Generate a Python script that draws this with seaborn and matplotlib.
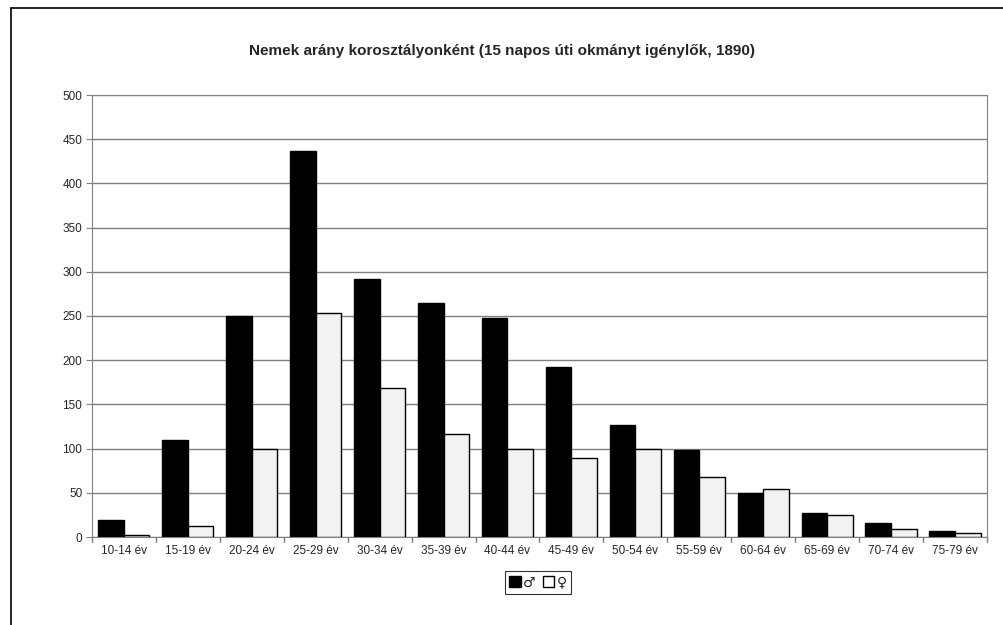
import matplotlib
matplotlib.use("Agg")
import matplotlib.pyplot as plt
import numpy as np
import pandas as pd
import seaborn as sns
from matplotlib.lines import Line2D
from matplotlib.patches import Patch

age_groups = ["10-14 év", "15-19 év", "20-24 év", "25-29 év", "30-34 év", "35-39 év", "40-44 év",
              "45-49 év", "50-54 év", "55-59 év", "60-64 év", "65-69 év", "70-74 év", "75-79 év"]
male = [19, 110, 250, 437, 292, 265, 248, 192, 127, 98, 50, 27, 16, 7]
female = [2, 13, 100, 253, 169, 117, 100, 89, 100, 68, 54, 25, 9, 4]
series_names = ["♂", "♀"]
y_ticks = [0, 50, 100, 150, 200, 250, 300, 350, 400, 450, 500]

frame = pd.DataFrame({
    "age": age_groups * 2,
    "count": male + female,
    "sex": [series_names[0]] * len(age_groups) + [series_names[1]] * len(age_groups),
})

sns.set_style("white")
plt.rcParams["font.family"] = ["Liberation Sans", "DejaVu Sans"]

fig = plt.figure(figsize=(10.04, 6.25), dpi=100)
ax = fig.add_axes([0.0916, 0.1408, 0.8914, 0.7072])

sns.barplot(data=frame, x="age", y="count", hue="sex", order=age_groups,
            palette={"♂": "black", "♀": "#f2f2f2"}, width=0.8, edgecolor="black",
            linewidth=1.0, ax=ax, legend=False, zorder=3)

ax.set_ylim(0, 500)
ax.set_xlim(-0.5, len(age_groups) - 0.5)
ax.set_yticks(y_ticks)
ax.yaxis.grid(True, color="#808080", linewidth=1.0, zorder=0)
ax.xaxis.grid(False)
ax.set_xlabel("")
ax.set_ylabel("")
for side in ["top", "right"]:
    ax.spines[side].set_visible(True)
    ax.spines[side].set_color("#808080")
ax.spines["left"].set_color("#808080")
ax.spines["bottom"].set_color("#808080")
ax.tick_params(axis="y", length=4, color="#808080", labelsize=8.5, left=True, pad=3)
ax.tick_params(axis="x", length=0, labelsize=8.5, pad=6)
for pos in np.arange(-0.5, len(age_groups), 1.0):
    ax.plot([pos, pos], [0, -6], color="#808080", linewidth=1.0, clip_on=False, zorder=4)

fig.text(0.5, 0.918, "Nemek arány korosztályonként (15 napos úti okmányt igénylők, 1890)",
         ha="center", va="center", fontsize=11, fontweight="bold")

handles = [Patch(facecolor="black", edgecolor="black", label=series_names[0]),
           Patch(facecolor="white", edgecolor="black", label=series_names[1])]
leg = fig.legend(handles=handles, loc="center", bbox_to_anchor=(0.536, 0.068), ncol=2,
                 frameon=True, handlelength=0.8, handleheight=0.8,
                 handletextpad=0.2, columnspacing=0.5, borderpad=0.3,
                 prop={"family": ["DejaVu Sans"], "size": 10})
leg.get_frame().set_edgecolor("black")
leg.get_frame().set_linewidth(0.8)
leg.get_frame().set_boxstyle("square", pad=0.0)

# outer frame around the chart
fig.add_artist(Line2D([0.011, 0.011], [0.0, 0.987], color="black", linewidth=1.2))
fig.add_artist(Line2D([0.011, 1.0], [0.987, 0.987], color="black", linewidth=1.2))

fig.savefig("out.png", dpi=100)
